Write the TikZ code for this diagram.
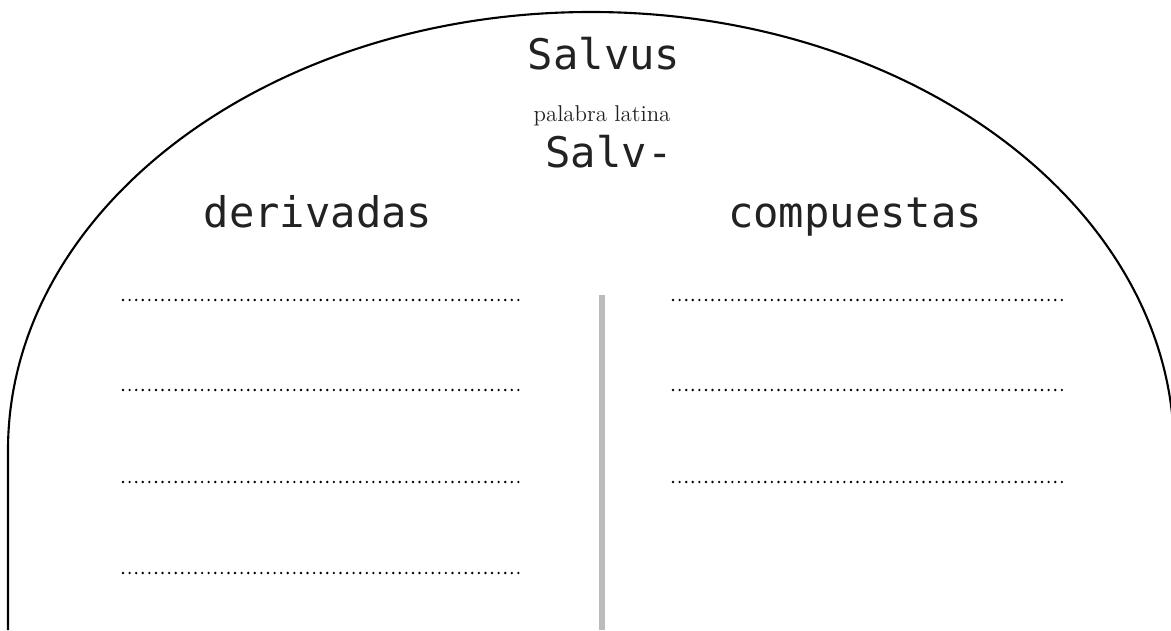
\documentclass[tikz,border=0pt]{standalone}
\usepackage{fontspec}
\setmonofont{DejaVu Sans Mono}
\definecolor{texto}{HTML}{222222}
\definecolor{gris}{HTML}{BBBBBB}
\tikzset{
  palabra/.style={font=\ttfamily\fontsize{24}{28}\selectfont, text=texto, anchor=base, inner sep=0pt},
  renglon/.style={line width=1.5pt, line cap=round, dash pattern=on 0pt off 3.75pt},
}
\begin{document}
\begin{tikzpicture}[x=0.2mm,y=0.2mm]
\useasboundingbox (0,0) rectangle (1171,630);
\begin{scope}
\clip (0,0) rectangle (1171,630);
\draw [line width=1.2pt] (8,0) -- (8,180) arc [start angle=180, end angle=0, x radius=583, y radius=438] -- (1174,0);
\end{scope}
\node [palabra] (salvus) at (604,560) {Salvus};
\node [anchor=base, inner sep=0pt, text=texto, font=\fontsize{13}{15}\selectfont] (latina) at (602,508) {palabra latina};
\node [palabra] (raiz) at (609,462) {Salv-};
\node [palabra] (deriv) at (318,402) {derivadas};
\node [palabra] (comp) at (855,402) {compuestas};
\draw [gris, line width=3pt] (602,335) -- (602,0);
\draw [renglon] (123,330) -- (520,330);
\draw [renglon] (123,240) -- (520,240);
\draw [renglon] (123,148) -- (520,148);
\draw [renglon] (123,57) -- (520,57);
\draw [renglon] (673,330) -- (1068,330);
\draw [renglon] (673,240) -- (1068,240);
\draw [renglon] (673,148) -- (1068,148);
\end{tikzpicture}
\end{document}
